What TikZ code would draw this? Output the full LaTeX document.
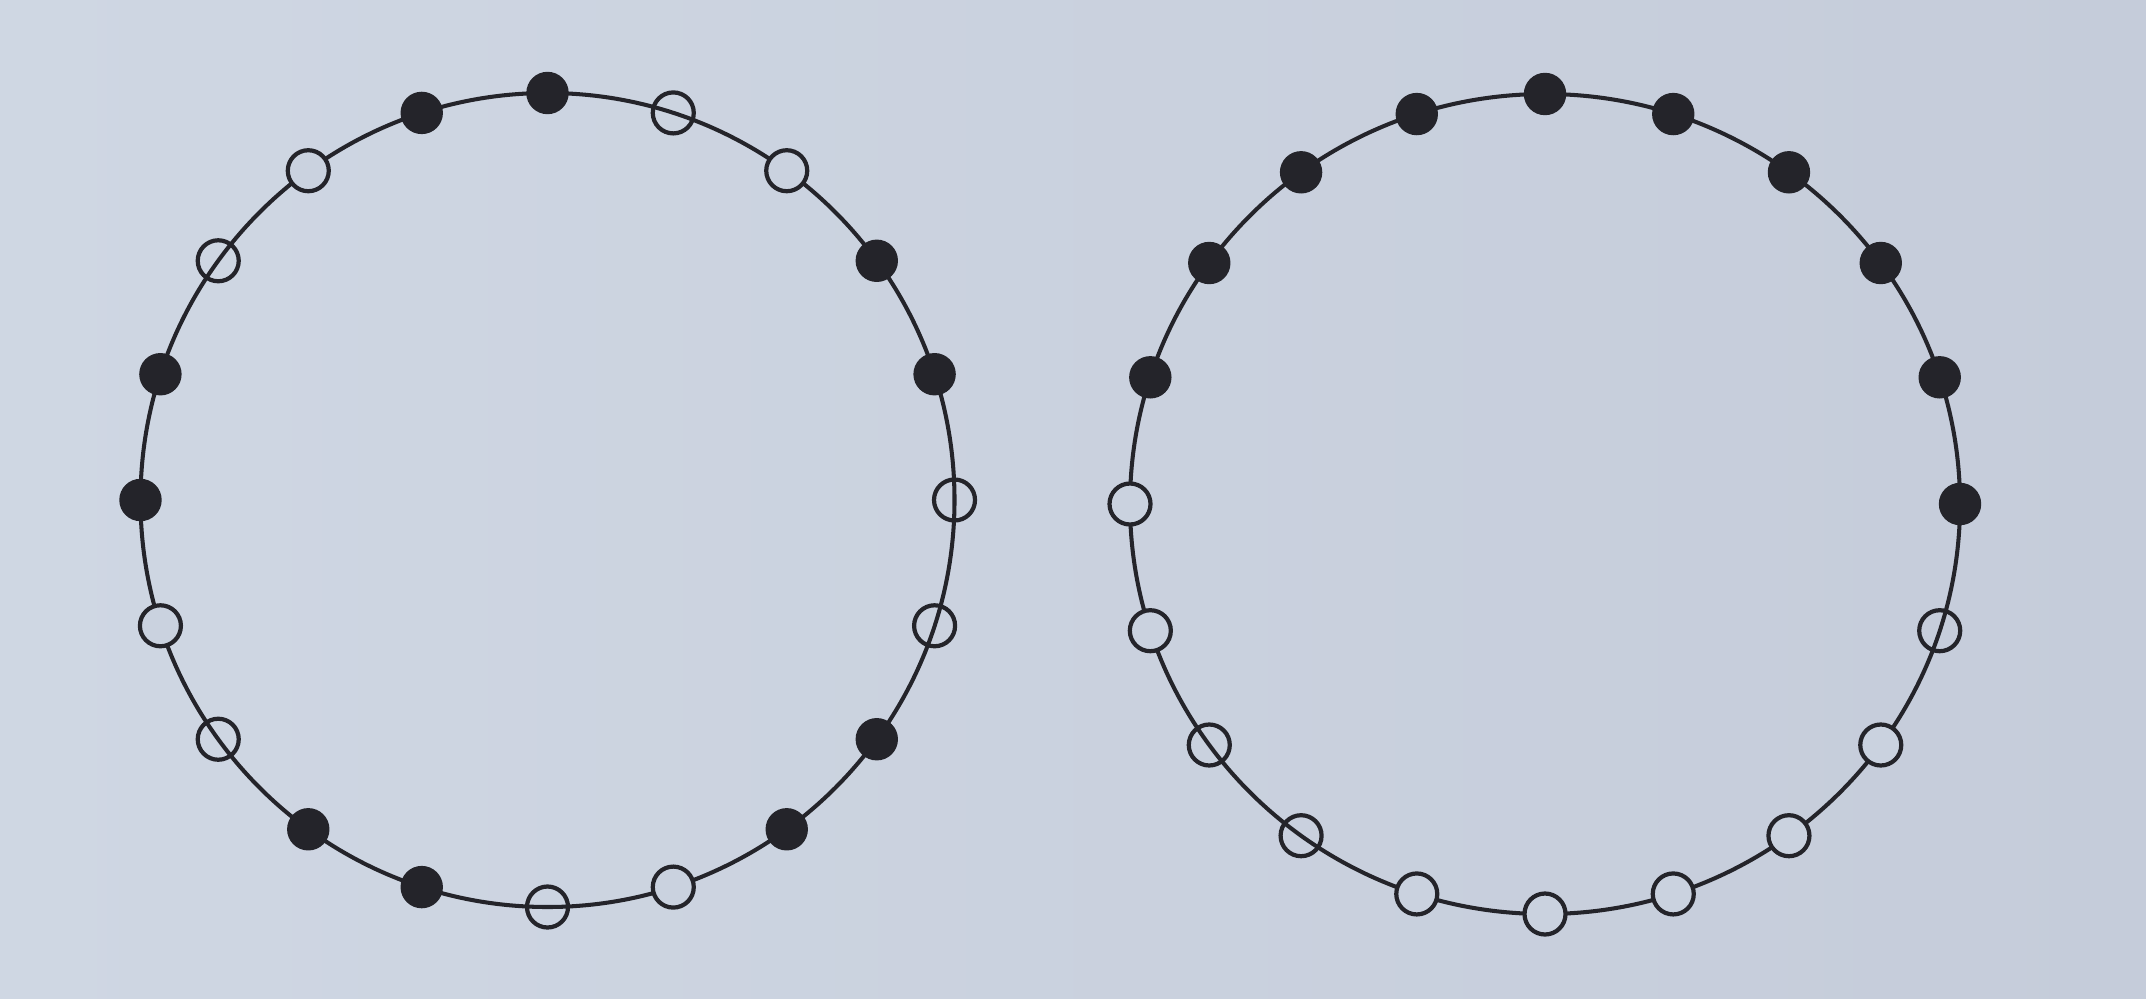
\documentclass[tikz,border=0pt]{standalone}
\definecolor{paper}{HTML}{CAD2DF}
\definecolor{paperL}{HTML}{CFD7E3}
\definecolor{paperR}{HTML}{C5CCDA}
\definecolor{ink}{HTML}{24242A}
\begin{document}
\begin{tikzpicture}[x=1cm,y=1cm,
  ring/.style={draw=ink, line width=1.15pt},
  fdot/.style={circle, fill=ink, draw=ink, inner sep=0pt, minimum size=0.41cm},
  odot/.style={circle, draw=ink, fill=paper, line width=1.2pt, inner sep=0pt, minimum size=0.41cm},
  odotx/.style={circle, draw=ink, line width=1.2pt, inner sep=0pt, minimum size=0.41cm}]
\shade[left color=paperL, right color=paperR] (0,0) rectangle (21.46,9.98);
\useasboundingbox (0,0) rectangle (21.46,9.98);
\coordinate (cL) at (5.475,4.98);
\coordinate (cR) at (15.45,4.94);
\draw[ring] (cL) circle (4.07);
\draw[ring] (cR) ellipse [x radius=4.15, y radius=4.10];
\foreach \a/\s [count=\i] in {90/fdot,72/odotx,54/odot,36/fdot,18/fdot,0/odotx,-18/odotx,-36/fdot,-54/fdot,-72/odot,-90/odotx,-108/fdot,-126/fdot,-144/odotx,-162/odot,180/fdot,162/fdot,144/odotx,126/odot,108/fdot}
  \node[\s] (L\i) at ([shift={(\a:4.07)}]cL) {};
\foreach \a/\s [count=\i] in {90/fdot,72/fdot,54/fdot,36/fdot,18/fdot,0/fdot,-18/odotx,-36/odot,-54/odot,-72/odot,-90/odot,-108/odot,-126/odotx,-144/odotx,-162/odot,180/odot,162/fdot,144/fdot,126/fdot,108/fdot}
  \node[\s] (R\i) at ([shift={(\a:4.15 and 4.10)}]cR) {};
\end{tikzpicture}
\end{document}
